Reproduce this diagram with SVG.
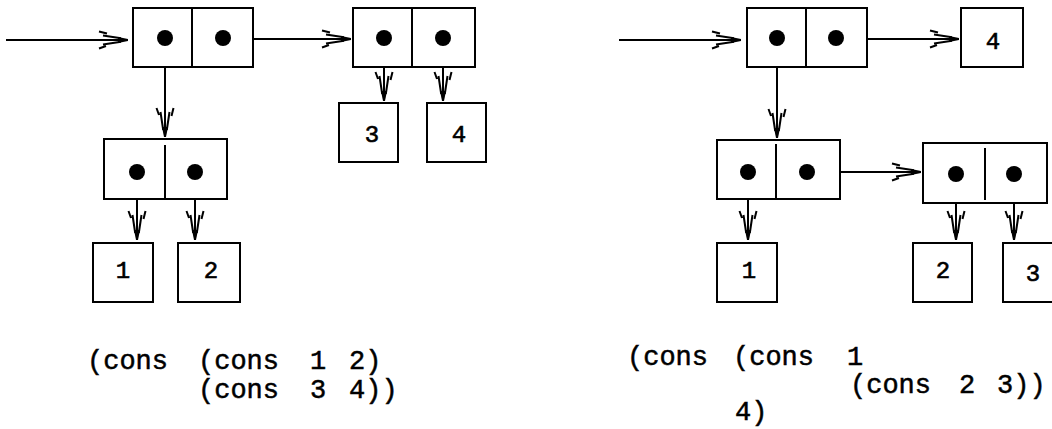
<svg xmlns="http://www.w3.org/2000/svg" width="1052" height="429" viewBox="0 0 1052 429">
<defs>
<style>
.box{fill:#fff;stroke:#000;stroke-width:2}
.div{stroke:#000;stroke-width:2}
.dot{fill:#000}
.ln{stroke:#000;stroke-width:2;fill:none;marker-end:url(#arr)}
.lbl{font-family:"Liberation Mono","DejaVu Sans Mono",monospace;font-size:24px;fill:#000;stroke:#000;stroke-width:0.6;text-anchor:middle}
.code{font-family:"Liberation Mono","DejaVu Sans Mono",monospace;font-size:27px;fill:#000;stroke:#000;stroke-width:0.5}
</style>
<marker id="arr" markerUnits="userSpaceOnUse" viewBox="-32 -10 34 20" refX="0" refY="0" markerWidth="34" markerHeight="20" orient="auto" overflow="visible">
<path d="M-29,-8.5 L-21,-6.5 M-25,-4.5 L-7,-1.8 M-29,8.5 L-22,6 M-25,4.5 L-7,1.8" stroke="#000" stroke-width="2" fill="none"/>
<path d="M-10,-3 L0,-1 L0,1 L-10,3 Z" fill="#000"/>
</marker>
</defs>
<rect width="1052" height="429" fill="#fff"/>

<g id="connectors">
<line class="ln" x1="6" y1="40" x2="128" y2="40"/>
<line class="ln" x1="223" y1="39" x2="351" y2="39"/>
<line class="ln" x1="165" y1="38" x2="165" y2="137"/>
<line class="ln" x1="384" y1="38" x2="384" y2="101"/>
<line class="ln" x1="443" y1="38" x2="443" y2="101"/>
<line class="ln" x1="137" y1="172" x2="137" y2="240"/>
<line class="ln" x1="195" y1="172" x2="195" y2="240"/>

<line class="ln" x1="619" y1="40" x2="741" y2="40"/>
<line class="ln" x1="836" y1="39" x2="959" y2="39"/>
<line class="ln" x1="777" y1="38" x2="777" y2="138"/>
<line class="ln" x1="748" y1="172" x2="748" y2="240"/>
<line class="ln" x1="807" y1="172" x2="921" y2="172"/>
<line class="ln" x1="956" y1="174" x2="956" y2="240"/>
<line class="ln" x1="1014" y1="174" x2="1014" y2="240"/>
</g>

<g id="cellA">
<rect class="box" x="133" y="8" width="120" height="59"/>
<line class="div" x1="192" y1="8" x2="192" y2="67"/>
<circle class="dot" cx="165" cy="38" r="8"/>
<circle class="dot" cx="223" cy="38" r="8"/>
</g>
<g id="cellB">
<rect class="box" x="353" y="8" width="122" height="59"/>
<line class="div" x1="412" y1="8" x2="412" y2="67"/>
<circle class="dot" cx="384" cy="38" r="8"/>
<circle class="dot" cx="443" cy="38" r="8"/>
</g>
<g id="box3L">
<rect class="box" x="339" y="103" width="59" height="59"/>
<text class="lbl" x="372" y="142">3</text>
</g>
<g id="box4L">
<rect class="box" x="427" y="103" width="59" height="59"/>
<text class="lbl" x="459" y="142">4</text>
</g>
<g id="cellC">
<rect class="box" x="104" y="139" width="123" height="60"/>
<line class="div" x1="165" y1="145" x2="165" y2="199"/>
<circle class="dot" cx="137" cy="172" r="8"/>
<circle class="dot" cx="195" cy="172" r="8"/>
</g>
<g id="box1L">
<rect class="box" x="93" y="243" width="60" height="59"/>
<text class="lbl" x="123" y="278">1</text>
</g>
<g id="box2L">
<rect class="box" x="178" y="243" width="62" height="59"/>
<text class="lbl" x="211" y="278">2</text>
</g>

<g id="cellD">
<rect class="box" x="747" y="8" width="120" height="59"/>
<line class="div" x1="806" y1="8" x2="806" y2="67"/>
<circle class="dot" cx="777" cy="38" r="8"/>
<circle class="dot" cx="836" cy="38" r="8"/>
</g>
<g id="box4R">
<rect class="box" x="961" y="8" width="62" height="59"/>
<text class="lbl" x="993" y="49">4</text>
</g>
<g id="cellE">
<rect class="box" x="717" y="140" width="123" height="59"/>
<line class="div" x1="776" y1="144" x2="776" y2="199"/>
<circle class="dot" cx="748" cy="172" r="8"/>
<circle class="dot" cx="807" cy="172" r="8"/>
</g>
<g id="cellF">
<rect class="box" x="923" y="143" width="124" height="60"/>
<line class="div" x1="985" y1="148" x2="985" y2="200"/>
<circle class="dot" cx="956" cy="174" r="8"/>
<circle class="dot" cx="1014" cy="174" r="8"/>
</g>
<g id="box1R">
<rect class="box" x="717" y="243" width="60" height="59"/>
<text class="lbl" x="749" y="278">1</text>
</g>
<g id="box2R">
<rect class="box" x="913" y="243" width="59" height="59"/>
<text class="lbl" x="943" y="278">2</text>
</g>
<g id="box3R">
<rect class="box" x="1003" y="243" width="60" height="59"/>
<text class="lbl" x="1033" y="281">3</text>
</g>

<g id="exprLeft" class="code">
<text x="87" y="369">(cons</text>
<text x="198" y="369">(cons</text>
<text x="310" y="369">1</text>
<text x="349" y="369">2)</text>
<text x="198" y="398">(cons</text>
<text x="310" y="398">3</text>
<text x="349" y="398">4))</text>
</g>
<g id="exprRight" class="code">
<text x="627" y="365">(cons</text>
<text x="733" y="365">(cons</text>
<text x="847" y="365">1</text>
<text x="850" y="393">(cons</text>
<text x="959" y="393">2</text>
<text x="997" y="393">3))</text>
<text x="735" y="420">4)</text>
</g>
</svg>
